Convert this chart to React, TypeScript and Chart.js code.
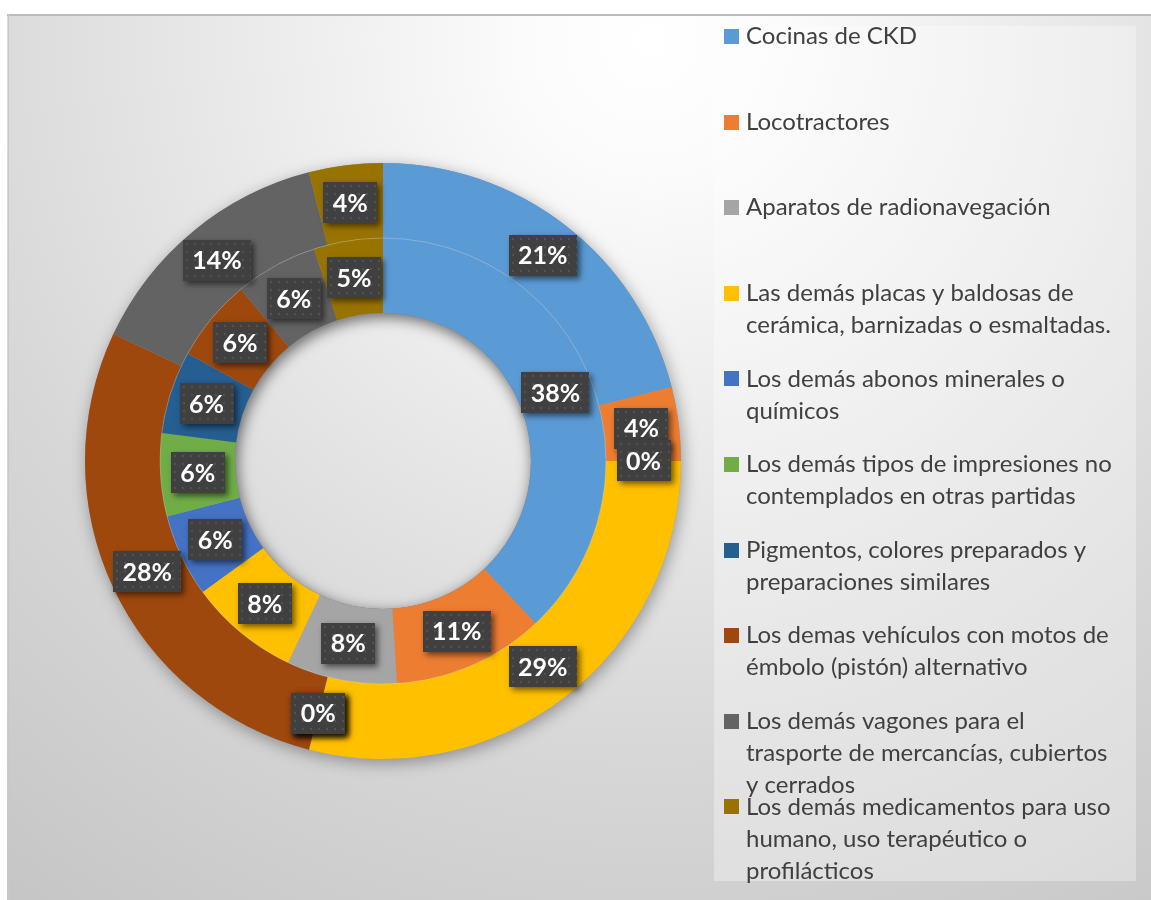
import { useEffect, useRef } from 'react';
import { Chart, registerables } from 'chart.js';

Chart.register(...registerables);

const categories: string[][] = [
  ['Cocinas de CKD'],
  ['Locotractores'],
  ['Aparatos de radionavegación'],
  ['Las demás placas y baldosas de', 'cerámica, barnizadas o esmaltadas.'],
  ['Los demás abonos minerales o', 'químicos'],
  ['Los demás tipos de impresiones no', 'contemplados en otras partidas'],
  ['Pigmentos, colores preparados y', 'preparaciones similares'],
  ['Los demas vehículos con motos de', 'émbolo (pistón) alternativo'],
  ['Los demás vagones para el', 'trasporte de mercancías, cubiertos', 'y cerrados'],
  ['Los demás medicamentos para uso', 'humano, uso terapéutico o', 'profilácticos'],
];

const outerValues = [21, 4, 0, 29, 0, 0, 0, 28, 14, 4];
const innerValues = [38, 11, 8, 8, 6, 6, 6, 6, 6, 5];

const colors = [
  '#5B9BD5', '#ED7D31', '#A5A5A5', '#FFC000', '#4472C4',
  '#70AD47', '#255E91', '#9E480E', '#636363', '#997300',
];

const FONT = 'Lato, "Open Sans", sans-serif';

export default function App() {
  const ref = useRef<HTMLCanvasElement>(null);

  useEffect(() => {
    document.body.style.overflow = 'hidden';
    const canvas = ref.current!;

    const bgPlugin = {
      id: 'bg',
      beforeDraw(chart: any) {
        const ctx: CanvasRenderingContext2D = chart.ctx;
        const w = chart.width, h = chart.height;
        ctx.save();
        const g = ctx.createRadialGradient(643, 26, 0, 643, 26, 1100);
        g.addColorStop(0, '#ffffff');
        g.addColorStop(0.12, '#fbfbfb');
        g.addColorStop(0.4, '#e8e8e8');
        g.addColorStop(0.65, '#d7d7d7');
        g.addColorStop(1, '#c4c4c4');
        ctx.fillStyle = g;
        ctx.fillRect(0, 0, w, h);
        // frame lines
        ctx.fillStyle = '#bcbcbc';
        ctx.fillRect(0, 0, w, 2);
        ctx.fillStyle = '#c8c8c8';
        ctx.fillRect(1, 0, 1, h);
        // legend box
        ctx.fillStyle = 'rgba(255,255,255,0.32)';
        ctx.fillRect(707, 12, 422, 855);
        ctx.restore();
      },
      beforeDatasetsDraw(chart: any) {
        const ctx: CanvasRenderingContext2D = chart.ctx;
        const outer = chart.getDatasetMeta(0).data[0];
        const inner = chart.getDatasetMeta(1).data[0];
        if (!outer || !inner) return;
        const cx = outer.x, cy = outer.y;
        ctx.save();
        ctx.beginPath();
        ctx.arc(cx, cy, outer.outerRadius, 0, Math.PI * 2);
        ctx.arc(cx, cy, inner.innerRadius, 0, Math.PI * 2, true);
        ctx.shadowColor = 'rgba(0,0,0,0.35)';
        ctx.shadowBlur = 16;
        ctx.shadowOffsetX = 2;
        ctx.shadowOffsetY = 4;
        ctx.fillStyle = '#999';
        ctx.fill();
        ctx.restore();
      },
    };

    let dotPattern: CanvasPattern | null = null;
    const labelPlugin = {
      id: 'pctLabels',
      afterDatasetsDraw(chart: any) {
        const ctx: CanvasRenderingContext2D = chart.ctx;
        const outer = chart.getDatasetMeta(0).data[0];
        const inner = chart.getDatasetMeta(1).data[0];
        if (!outer || !inner) return;
        const cx = outer.x, cy = outer.y;
        // separator between rings
        ctx.save();
        ctx.beginPath();
        ctx.arc(cx, cy, outer.innerRadius, 0, Math.PI * 2);
        ctx.strokeStyle = 'rgba(255,255,255,0.22)';
        ctx.lineWidth = 1;
        ctx.stroke();
        ctx.restore();
        // hole inner shadow
        ctx.save();
        ctx.beginPath();
        ctx.arc(cx, cy, inner.innerRadius, 0, Math.PI * 2);
        ctx.clip();
        ctx.beginPath();
        ctx.arc(cx, cy, inner.innerRadius + 60, 0, Math.PI * 2);
        ctx.arc(cx, cy, inner.innerRadius, 0, Math.PI * 2, true);
        ctx.shadowColor = 'rgba(0,0,0,0.28)';
        ctx.shadowBlur = 12;
        ctx.shadowOffsetX = 2;
        ctx.shadowOffsetY = 4;
        ctx.fillStyle = '#888';
        ctx.fill();
        ctx.restore();

        if (!dotPattern) {
          const pc = document.createElement('canvas');
          pc.width = 8; pc.height = 8;
          const p = pc.getContext('2d')!;
          p.fillStyle = 'rgba(255,255,255,0.10)';
          p.beginPath();
          p.arc(4, 4, 1.2, 0, Math.PI * 2);
          p.fill();
          dotPattern = ctx.createPattern(pc, 'repeat');
        }

        ctx.save();
        ctx.font = `bold 25px ${FONT}`;
        ctx.textAlign = 'center';
        ctx.textBaseline = 'middle';
        chart.data.datasets.forEach((ds: any, di: number) => {
          const meta = chart.getDatasetMeta(di);
          meta.data.forEach((arc: any, i: number) => {
            const v = ds.data[i];
            const text = `${v}%`;
            const pos = arc.tooltipPosition(false);
            const tw = ctx.measureText(text).width;
            const bw = Math.round(tw + 19);
            const bh = 41;
            const bx = Math.round(pos.x - bw / 2);
            const by = Math.round(pos.y - bh / 2);
            ctx.save();
            ctx.shadowColor = 'rgba(0,0,0,0.55)';
            ctx.shadowBlur = 6;
            ctx.shadowOffsetX = 3;
            ctx.shadowOffsetY = 3;
            ctx.fillStyle = '#404040';
            ctx.fillRect(bx, by, bw, bh);
            ctx.restore();
            if (dotPattern) {
              ctx.save();
              ctx.translate(bx, by);
              ctx.fillStyle = dotPattern;
              ctx.fillRect(0, 0, bw, bh);
              ctx.restore();
            }
            ctx.fillStyle = '#ffffff';
            ctx.fillText(text, pos.x, pos.y + 1);
          });
        });
        ctx.restore();
      },
      afterDraw(chart: any) {
        const ctx: CanvasRenderingContext2D = chart.ctx;
        ctx.save();
        ctx.font = `24px ${FONT}`;
        ctx.textBaseline = 'middle';
        ctx.textAlign = 'left';
        const labels = chart.data.labels as string[][];
        labels.forEach((lines, i) => {
          const yc = 22.5 + i * 85.6;
          ctx.fillStyle = colors[i];
          ctx.fillRect(717, Math.round(yc - 7.5), 15, 15);
          ctx.fillStyle = '#404040';
          lines.forEach((ln, k) => {
            ctx.fillText(ln, 739, yc + k * 32);
          });
        });
        ctx.restore();
      },
    };

    const chart = new Chart(canvas, {
      type: 'doughnut',
      data: {
        labels: categories as any,
        datasets: [
          { data: outerValues, backgroundColor: colors, borderWidth: 0, hoverOffset: 0 },
          { data: innerValues, backgroundColor: colors, borderWidth: 0, hoverOffset: 0 },
        ],
      },
      options: {
        responsive: false,
        animation: false,
        cutout: 148,
        layout: { padding: { left: 78, right: 470, top: 149, bottom: 141 } },
        plugins: {
          legend: { display: false },
          tooltip: { enabled: false },
          title: { display: false },
        },
        events: [],
      },
      plugins: [bgPlugin, labelPlugin],
    });
    return () => chart.destroy();
  }, []);

  return (
    <canvas
      ref={ref}
      width={1144}
      height={886}
      style={{ position: 'absolute', left: 7, top: 14, width: 1144, height: 886, display: 'block' }}
    />
  );
}
